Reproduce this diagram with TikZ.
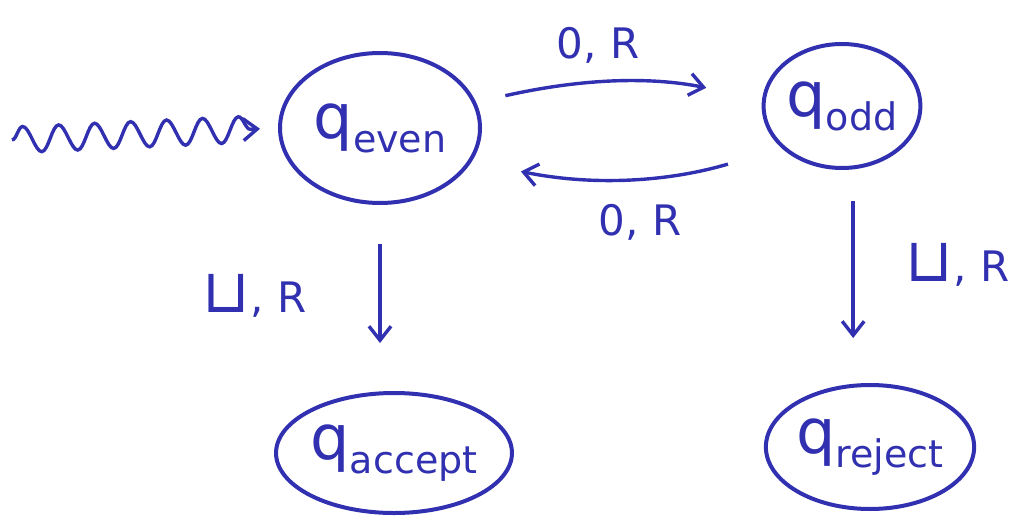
\documentclass[tikz,border=0pt]{standalone}
\usepackage{fontspec}
\setmainfont{DejaVu Sans}
\usetikzlibrary{shapes.geometric,arrows.meta,decorations.pathmorphing}
\definecolor{ink}{HTML}{3030B0}
\tikzset{
  state/.style={draw=ink, line width=4pt, ellipse, inner sep=0pt, text=ink},
  trans/.style={draw=ink, line width=3.4pt, -{Straight Barb[length=14pt,width=22pt,line width=3.4pt]}},
  lbl/.style={text=ink, font=\fontsize{42}{46}\selectfont, inner sep=0pt}
}
\newcommand{\stname}[1]{{\fontsize{62}{62}\selectfont q}\raisebox{-14pt}{\fontsize{38}{38}\selectfont #1}}
\newcommand{\blank}{\scalebox{1.45}{⊔}}
\begin{document}
\begin{tikzpicture}[x=1pt,y=-1pt]
\useasboundingbox (0,0) rectangle (1033,522);
\node[state, minimum width=200pt, minimum height=150pt] (qe) at (380,128) {\stname{even}};
\node[state, minimum width=150pt, minimum height=124pt] (qo) at (842,106) {\stname{odd}};
\node[state, minimum width=212pt, minimum height=120pt] (qa) at (394,453) {\stname{accept}};
\node[state, minimum width=174pt, minimum height=124pt] (qr) at (870,447) {\stname{reject}};
\coordinate (start) at (12,140);
\draw[trans, shorten >=18pt, decorate, decoration={snake, amplitude=13pt, segment length=36pt, post length=14pt}] (start) -- (qe.west);
\draw[trans, shorten <=30pt, shorten >=57pt] (qe.15) to[bend left=12] (qo.175);
\draw[trans, shorten <=56pt, shorten >=50pt] (qo.215) to[bend left=14] (qe.-20);
\draw[trans, shorten <=39pt, shorten >=48pt] (qe.south) -- (qe.south |- qa.north);
\draw[trans, shorten <=32pt, shorten >=45pt] (qo.-80) -- (qo.-80 |- qr.north);
\node[lbl] (l1) at (598,45) {0,\,\,R};
\node[lbl] (l2) at (640,222) {0,\,\,R};
\node[lbl] (l3) at (255,296) {\blank,\,\,R};
\node[lbl] (l4) at (958,265) {\blank,\,\,R};
\end{tikzpicture}
\end{document}
